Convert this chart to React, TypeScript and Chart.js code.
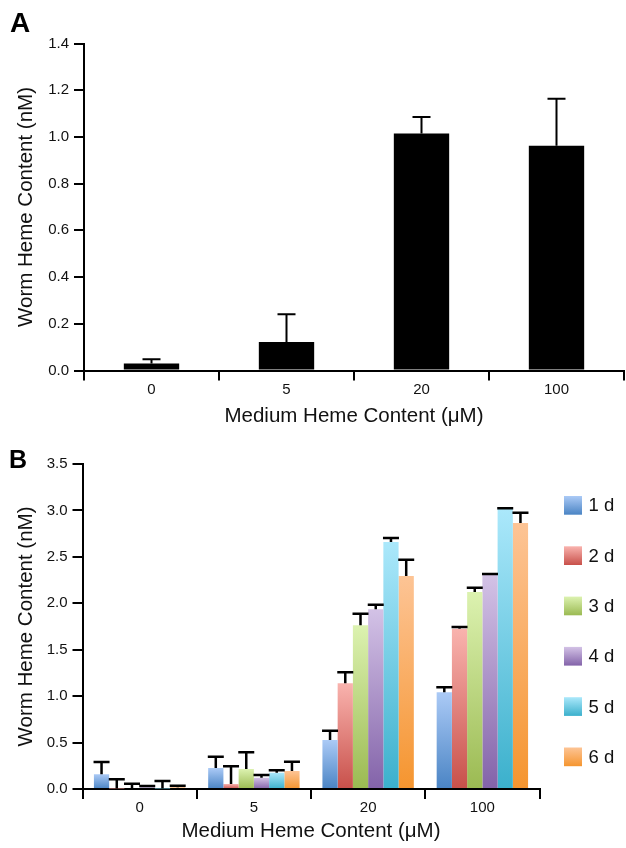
import React, { useEffect, useRef } from 'react';
import { Chart, registerables } from 'chart.js';

Chart.register(...registerables);

// ---------- data ----------
const categories = ['0', '5', '20', '100'];

const panelAValues = [0.03, 0.122, 1.015, 0.962];
const panelAErrors = [0.018, 0.119, 0.07, 0.201];

const dayLabels = ['1 d', '2 d', '3 d', '4 d', '5 d', '6 d'];
const day1Values = [0.16, 0.226, 0.528, 1.041];
const day1Errors = [0.13, 0.122, 0.1, 0.054];
const day2Values = [0.005, 0.054, 1.138, 1.726];
const day2Errors = [0.099, 0.19, 0.118, 0.019];
const day3Values = [0.01, 0.215, 1.763, 2.121];
const day3Errors = [0.047, 0.18, 0.125, 0.047];
const day4Values = [0.02, 0.122, 1.935, 2.308];
const day4Errors = [0.012, 0.029, 0.05, 0.007];
const day5Values = [0.005, 0.176, 2.66, 3.015];
const day5Errors = [0.081, 0.025, 0.043, 0.008];
const day6Values = [0.02, 0.194, 2.294, 2.865];
const day6Errors = [0.016, 0.1, 0.176, 0.111];

const panelATicks = [0, 0.2, 0.4, 0.6, 0.8, 1.0, 1.2, 1.4];
const panelBTicks = [0, 0.5, 1.0, 1.5, 2.0, 2.5, 3.0, 3.5];

const dayValues = [day1Values, day2Values, day3Values, day4Values, day5Values, day6Values];
const dayErrors = [day1Errors, day2Errors, day3Errors, day4Errors, day5Errors, day6Errors];

// ---------- styles ----------
const FONT = "'Liberation Sans', Arial, sans-serif";
const TEXT = '#111';
const dayLight = ['#abcaf6', '#f9b3ae', '#dcf2b0', '#d3c2e6', '#abe8fb', '#fdc495'];
const dayDark = ['#4a84c4', '#c8504a', '#9bba52', '#8363a9', '#3bb0cc', '#f5952f'];

const errorBarPlugin = {
  id: 'errorBars',
  afterDatasetsDraw(chart: any, _args: any, opts: any) {
    const { ctx, scales } = chart;
    ctx.save();
    ctx.strokeStyle = '#000';
    ctx.lineWidth = opts.lineWidth || 2;
    ctx.lineCap = 'butt';
    chart.data.datasets.forEach((ds: any, i: number) => {
      const errs = ds.errors;
      if (!errs) return;
      const meta = chart.getDatasetMeta(i);
      meta.data.forEach((bar: any, j: number) => {
        const v = ds.data[j];
        const e = errs[j];
        const yTop = scales.y.getPixelForValue(v + e);
        const yBar = scales.y.getPixelForValue(v);
        const x = bar.x;
        const hw = (opts.capWidth || 16) / 2;
        ctx.beginPath();
        ctx.moveTo(x, yBar);
        ctx.lineTo(x, yTop);
        ctx.moveTo(x - hw, yTop);
        ctx.lineTo(x + hw, yTop);
        ctx.stroke();
      });
    });
    ctx.restore();
  },
};

const legendPlugin = {
  id: 'gradLegend',
  afterDraw(chart: any, _args: any, opts: any) {
    if (!opts || !opts.display) return;
    const { ctx, chartArea } = chart;
    const x = chartArea.right + 24.5;
    const y0 = chartArea.top + 32;
    const step = 50.3;
    const bw = 18;
    const bh = 18.7;
    ctx.save();
    chart.data.datasets.forEach((ds: any, i: number) => {
      const y = y0 + i * step;
      const g = ctx.createLinearGradient(0, y, 0, y + bh);
      g.addColorStop(0, dayLight[i]);
      g.addColorStop(1, dayDark[i]);
      ctx.fillStyle = g;
      ctx.fillRect(x, y, bw, bh);
      ctx.fillStyle = TEXT;
      ctx.font = `18.5px ${FONT}`;
      ctx.textBaseline = 'middle';
      ctx.textAlign = 'left';
      ctx.fillText(ds.label, x + bw + 6.5, y + bh / 2 + 1);
    });
    ctx.restore();
  },
};

function gradientFill(i: number) {
  return (c: any) => {
    const chart = c.chart;
    const scales = chart.scales;
    if (c.type !== 'data' || !scales || !scales.y || !chart.chartArea) return dayDark[i];
    const v = c.parsed ? c.parsed.y : c.raw;
    let top = scales.y.getPixelForValue(v);
    const bottom = scales.y.getPixelForValue(0);
    if (bottom - top < 1) top = bottom - 1;
    const g = chart.ctx.createLinearGradient(0, top, 0, bottom);
    g.addColorStop(0, dayLight[i]);
    g.addColorStop(1, dayDark[i]);
    return g;
  };
}

function axisOptions(ticks: number[], yWidth: number, xHeight: number, xTitlePadBottom: number) {
  const max = ticks[ticks.length - 1];
  const step = ticks[1] - ticks[0];
  return {
    x: {
      type: 'category',
      offset: true,
      grid: {
        display: true,
        drawOnChartArea: false,
        drawTicks: true,
        tickLength: 10,
        color: '#000',
        lineWidth: 2,
        offset: true,
      },
      border: { display: true, color: '#000', width: 2 },
      ticks: { color: TEXT, font: { family: FONT, size: 15 }, padding: 0, maxRotation: 0 },
      title: {
        display: true,
        text: 'Medium Heme Content (μM)',
        color: TEXT,
        font: { family: FONT, size: 20.5 },
        padding: { top: 0, bottom: xTitlePadBottom },
      },
      afterFit: (s: any) => {
        s.height = xHeight;
      },
    },
    y: {
      type: 'linear',
      min: 0,
      max,
      grid: {
        display: true,
        drawOnChartArea: false,
        drawTicks: true,
        tickLength: 10,
        color: '#000',
        lineWidth: 2,
      },
      border: { display: true, color: '#000', width: 2 },
      ticks: {
        stepSize: step,
        color: TEXT,
        font: { family: FONT, size: 15 },
        padding: 5,
        callback: (v: any) => Number(v).toFixed(1),
      },
      afterBuildTicks: (s: any) => {
        s.ticks = ticks.map((t) => ({ value: t }));
      },
      title: {
        display: true,
        text: 'Worm Heme Content (nM)',
        color: TEXT,
        font: { family: FONT, size: 20.5 },
        padding: { top: 13.7, bottom: 0 },
      },
      afterFit: (s: any) => {
        s.width = yWidth;
      },
    },
  };
}

function PanelA() {
  const ref = useRef<HTMLCanvasElement | null>(null);
  useEffect(() => {
    if (!ref.current) return;
    const chart = new Chart(ref.current, {
      type: 'bar',
      data: {
        labels: categories,
        datasets: [
          {
            label: 'Worm heme',
            data: panelAValues,
            errors: panelAErrors,
            backgroundColor: '#000',
            borderWidth: 0,
            barPercentage: 0.41,
            categoryPercentage: 1,
          } as any,
        ],
      },
      options: {
        responsive: false,
        animation: false,
        layout: { padding: { top: 43.5, right: 2, bottom: 0, left: 0 } },
        plugins: {
          legend: { display: false },
          tooltip: { enabled: false },
          errorBars: { lineWidth: 2, capWidth: 18 },
        } as any,
        scales: axisOptions(panelATicks, 84, 59.5, 1.2) as any,
      },
      plugins: [errorBarPlugin],
    });
    return () => chart.destroy();
  }, []);
  return <canvas ref={ref} width={626} height={430} style={{ width: 626, height: 430, display: 'block' }} />;
}

function PanelB() {
  const ref = useRef<HTMLCanvasElement | null>(null);
  useEffect(() => {
    if (!ref.current) return;
    const chart = new Chart(ref.current, {
      type: 'bar',
      data: {
        labels: categories,
        datasets: dayLabels.map((label, i) => ({
          label,
          data: dayValues[i],
          errors: dayErrors[i],
          backgroundColor: gradientFill(i),
          borderWidth: 0,
          barPercentage: 1,
          categoryPercentage: 0.8,
        })) as any,
      },
      options: {
        responsive: false,
        animation: false,
        layout: { padding: { top: 34, right: 86.5, bottom: 0, left: 0 } },
        plugins: {
          legend: { display: false },
          tooltip: { enabled: false },
          errorBars: { lineWidth: 2.5, capWidth: 16 },
          gradLegend: { display: true },
        } as any,
        scales: axisOptions(panelBTicks, 82.5, 59, 4.7) as any,
      },
      plugins: [errorBarPlugin, legendPlugin],
    });
    return () => chart.destroy();
  }, []);
  return <canvas ref={ref} width={626} height={418} style={{ width: 626, height: 418, display: 'block' }} />;
}

export default function App() {
  const labelStyle: React.CSSProperties = {
    position: 'absolute',
    fontFamily: FONT,
    fontWeight: 'bold',
    lineHeight: 1,
    color: '#000',
    margin: 0,
  };
  return (
    <div style={{ position: 'absolute', left: 0, top: 0, width: 626, height: 848, background: '#fff' }}>
      <div style={{ position: 'absolute', left: 0, top: 0 }}>
        <PanelA />
      </div>
      <div style={{ position: 'absolute', left: 0, top: 430 }}>
        <PanelB />
      </div>
      <div style={{ ...labelStyle, left: 10, top: 9.3, fontSize: 28 }}>A</div>
      <div style={{ ...labelStyle, left: 9, top: 446.7, fontSize: 25 }}>B</div>
    </div>
  );
}
